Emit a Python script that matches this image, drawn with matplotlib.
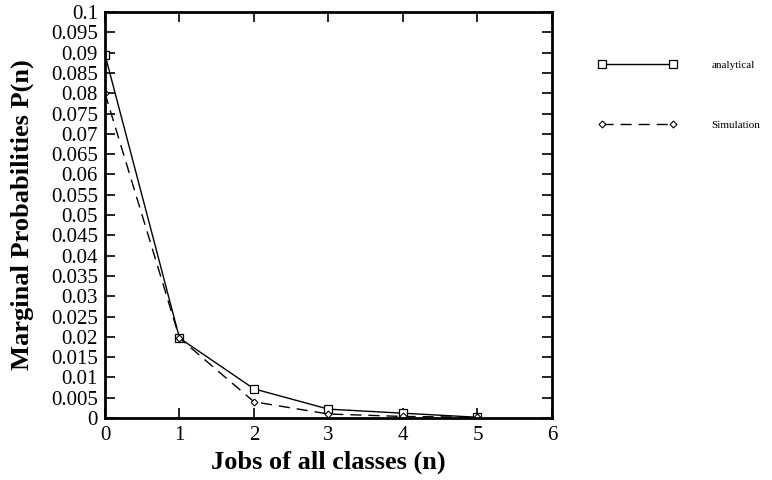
import numpy as np
import matplotlib.pyplot as plt

plt.rcParams['font.family'] = ['Liberation Serif', 'DejaVu Serif']

n = [0, 1, 2, 3, 4, 5]
analytical = [0.0895, 0.0197, 0.0072, 0.0022, 0.0012, 0.0002]
simulation = [0.0800, 0.0197, 0.0040, 0.0010, 0.0004, 0.0002]

yticks = np.round(np.arange(0, 0.1001, 0.005), 3)
ylabels = ['0'] + ['%g' % v for v in yticks[1:]]

fig = plt.figure(figsize=(7.72, 4.8), dpi=100)
ax = fig.add_axes([0.136, 0.129, 0.579, 0.846])

ax.plot(n, analytical, color='black', lw=1.0, marker='s', ms=6,
        mfc='white', mec='black', mew=0.9, label='analytical')
ax.plot(n, simulation, color='black', lw=1.0, ls=(0, (8, 5)), marker='D', ms=3.5,
        mfc='white', mec='black', mew=0.8, label='Simulation')

ax.set_xlim(0, 6)
ax.set_ylim(0, 0.1)
ax.set_xticks(range(7))
ax.set_yticks(yticks)
ax.set_yticklabels(ylabels)
ax.tick_params(direction='in', length=7, width=1.2, labelsize=15,
               top=True, right=True)
ax.tick_params(axis='y', pad=5)
ax.tick_params(axis='x', pad=6)
for s in ax.spines.values():
    s.set_linewidth(2)

ax.set_xlabel('Jobs of all classes (n)', fontsize=19, fontweight='bold', labelpad=4)
ax.set_ylabel('Marginal Probabilities P(n)', fontsize=19, fontweight='bold', labelpad=12)

leg = fig.legend(loc='upper left', bbox_to_anchor=(0.762, 0.895), frameon=False,
                 fontsize=8, handlelength=7, numpoints=2, labelspacing=4.5,
                 handletextpad=3.2)

fig.savefig('out.png', dpi=100)
